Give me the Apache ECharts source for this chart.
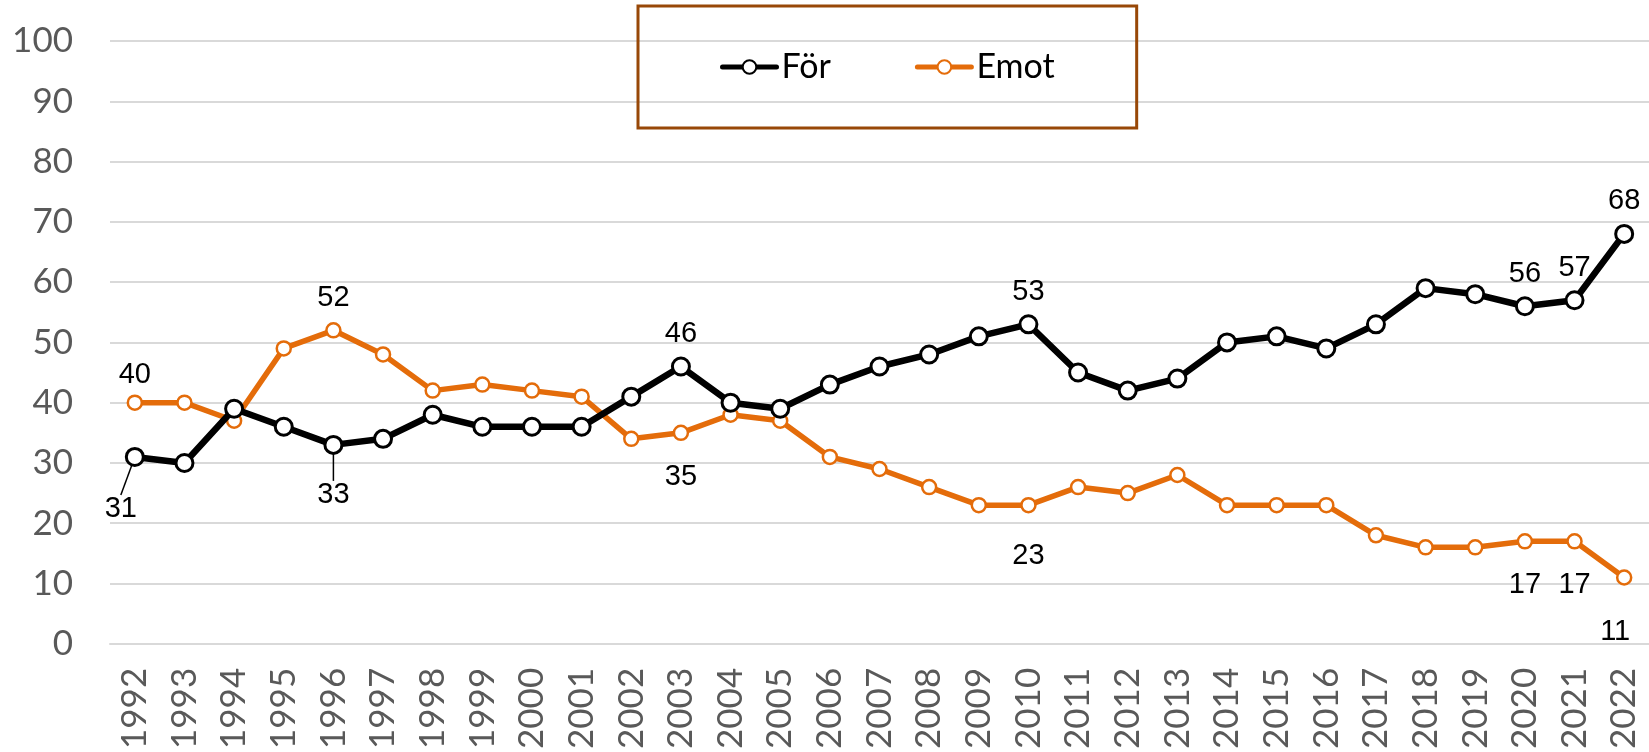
<!DOCTYPE html>
<html>
<head>
<meta charset="utf-8">
<script src="https://cdn.jsdelivr.net/npm/echarts@6/dist/echarts.min.js"></script>
<style>
  html, body { margin: 0; padding: 0; background: #fff; }
  #chart { width: 1649px; height: 752px; }
</style>
</head>
<body>
<div id="chart"></div>
<script>
let years = ["1992", "1993", "1994", "1995", "1996", "1997", "1998", "1999", "2000", "2001",
  "2002", "2003", "2004", "2005", "2006", "2007", "2008", "2009", "2010", "2011",
  "2012", "2013", "2014", "2015", "2016", "2017", "2018", "2019", "2020", "2021", "2022"];

let forValues = [31, 30, 39, 36, 33, 34, 38, 36, 36, 36,
  41, 46, 40, 39, 43, 46, 48, 51, 53, 45,
  42, 44, 50, 51, 49, 53, 59, 58, 56, 57, 68];

let emotValues = [40, 40, 37, 49, 52, 48, 42, 43, 42, 41,
  34, 35, 38, 37, 31, 29, 26, 23, 23, 26,
  25, 28, 23, 23, 23, 18, 16, 16, 17, 17, 11];

// years that carry a value label
let forLabelYears = ["1992", "1996", "2003", "2010", "2020", "2021", "2022"];
let emotLabelYears = ["1992", "1996", "2003", "2010", "2020", "2021", "2022"];

let myChart = echarts.init(document.getElementById("chart"));

let forData = forValues.map((v, i) => {
  let item = { value: v };
  if (forLabelYears.includes(years[i])) {
    item.label = { show: true };
    if (years[i] === "1992" || years[i] === "1996") {
      item.label.position = "bottom";
      item.label.distance = 20;
      item.labelLine = { show: true };
    }
    if (years[i] === "2022") item.label.offset = [-4, 4];
  }
  return item;
});

let emotData = emotValues.map((v, i) => {
  let item = { value: v };
  if (emotLabelYears.includes(years[i])) {
    item.label = { show: true };
    if (["2003", "2010", "2020", "2021", "2022"].includes(years[i])) {
      item.label.position = "bottom";
      item.label.distance = 21;
    }
    if (years[i] === "1992") item.label.offset = [0, 5];
    if (years[i] === "2010") item.label.offset = [0, 7];
    if (years[i] === "2022") item.label.offset = [-9, 11];
  }
  return item;
});

let labelFont = {
  fontFamily: "Liberation Sans",
  fontSize: 29,
  color: "#000",
};

let option = {
  animation: false,
  backgroundColor: "#fff",
  legend: {
    left: 638,
    top: 6,
    padding: [44, 82],
    borderColor: "#984807",
    borderWidth: 3,
    itemWidth: 54,
    itemHeight: 17,
    itemGap: 84,
    lineStyle: { width: 5, cap: "round" },
    textStyle: {
      fontFamily: "Lato",
      fontSize: 34,
      color: "#000",
    },
    data: ["För", "Emot"],
  },
  grid: {
    left: 110,
    right: -8,
    top: 41,
    bottom: 100,
  },
  xAxis: {
    type: "category",
    data: years,
    boundaryGap: true,
    axisLine: { lineStyle: { color: "#d9d9d9", width: 2 } },
    axisTick: { show: false },
    axisLabel: {
      rotate: 90,
      margin: 24,
      fontFamily: "Lato",
      fontSize: 35,
      color: "#595959",
      interval: 0,
    },
  },
  yAxis: {
    type: "value",
    min: 0,
    max: 100,
    interval: 10,
    axisLine: { show: false },
    axisTick: { show: false },
    splitLine: { lineStyle: { color: "#d9d9d9", width: 2 } },
    axisLabel: {
      margin: 37,
      fontFamily: "Lato",
      fontSize: 35,
      color: "#595959",
    },
  },
  series: [
    {
      name: "För",
      type: "line",
      data: forData,
      symbol: "circle",
      symbolSize: 17,
      z: 3,
      lineStyle: { color: "#000", width: 6.5 },
      itemStyle: { color: "#fff", borderColor: "#000", borderWidth: 3 },
      label: Object.assign({ show: false, position: "top", distance: 8 }, labelFont),
      labelLine: { show: false, lineStyle: { color: "#000", width: 1.5 } },
      labelLayout: function (p) {
        if (p.dataIndex === 0) return { dx: -14, dy: 8 };
        if (p.dataIndex === 4) return { dx: 0, dy: 6 };
        return {};
      },
      emphasis: { disabled: true },
    },
    {
      name: "Emot",
      type: "line",
      data: emotData,
      symbol: "circle",
      symbolSize: 14,
      z: 2,
      lineStyle: { color: "#E46C0A", width: 5.5 },
      itemStyle: { color: "#fff", borderColor: "#E46C0A", borderWidth: 2.5 },
      label: Object.assign({ show: false, position: "top", distance: 10 }, labelFont),
      emphasis: { disabled: true },
    },
  ],
};

myChart.setOption(option);
</script>
</body>
</html>
